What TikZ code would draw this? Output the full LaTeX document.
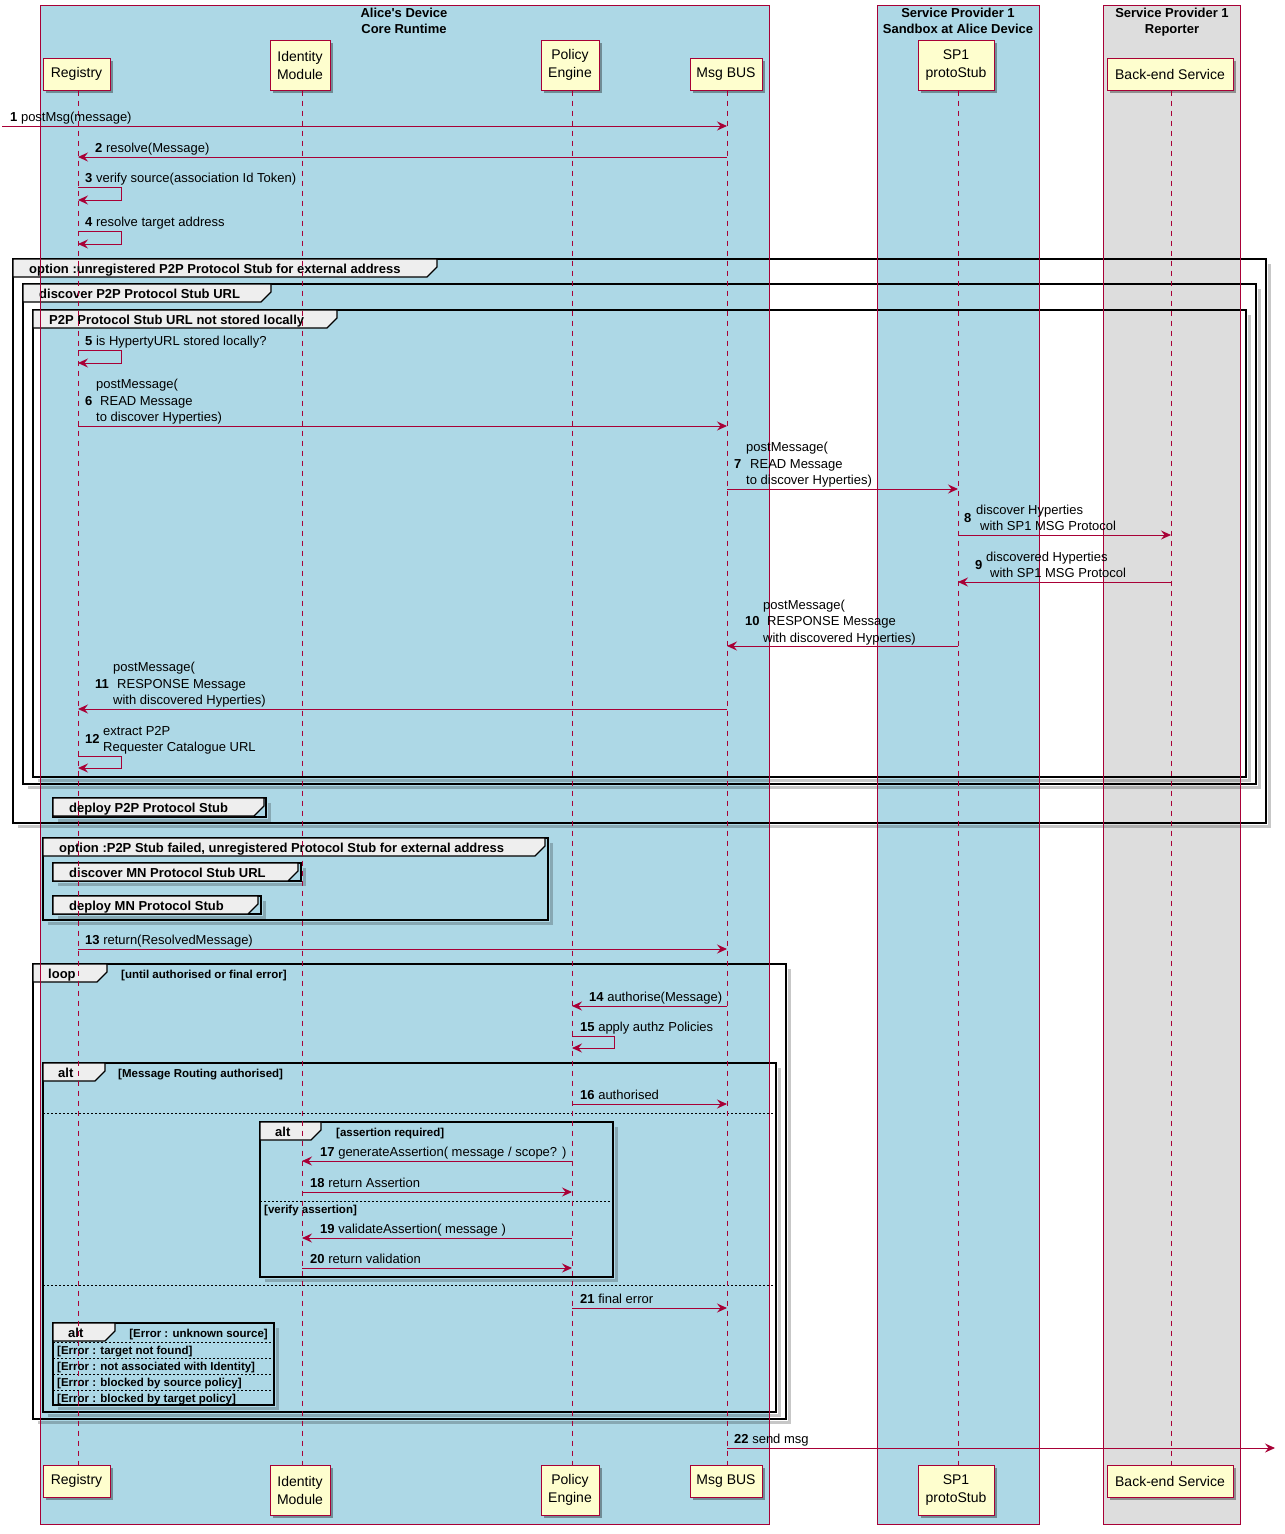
\documentclass[tikz,border=0pt]{standalone}
\usepackage{fontspec}
\setmainfont{Liberation Sans}
\usetikzlibrary{arrows.meta,shadows}

\definecolor{crim}{HTML}{A80036}
\definecolor{lblue}{HTML}{ADD8E6}
\definecolor{gbox}{HTML}{DDDDDD}
\definecolor{pfill}{HTML}{FEFECE}
\definecolor{tabfill}{HTML}{EEEEEE}

\tikzset{
  msg/.style={draw=crim, line width=0.9pt, -{Stealth[length=10pt,width=9pt,inset=3.5pt]}},
  lifeline/.style={draw=crim, line width=0.8pt, dash pattern=on 5pt off 5pt},
  participant/.style={draw=crim, fill=pfill, line width=1pt, inner sep=0pt, align=center,
    font=\fontsize{14}{18}\selectfont,
    drop shadow={shadow xshift=3pt, shadow yshift=-3pt, opacity=0.35, fill=black}},
  lbl/.style={inner sep=0pt, anchor=base west, font=\fontsize{13}{16}\selectfont},
  grouptitle/.style={inner sep=0pt, anchor=base west, font=\fontsize{13}{16}\selectfont\bfseries},
  guard/.style={inner sep=0pt, anchor=base west, font=\fontsize{11.5}{14}\selectfont\bfseries},
  framebox/.style={draw=black, line width=1.6pt},
  tabbox/.style={draw=black, fill=tabfill, line width=1.2pt},
  frameshadow/.style={draw=black, opacity=0.22, line width=3pt},
  elsesep/.style={draw=black, line width=0.8pt, dash pattern=on 2pt off 2pt},
  boxtitle/.style={inner sep=0pt, anchor=base, font=\fontsize{13}{16}\selectfont\bfseries},
  boxborder/.style={draw=crim, line width=0.9pt},
}

% fragment frame: x1, y1, x2, y2, right edge of the title tab
\newcommand{\seqframe}[5]{%
  \draw[frameshadow] (#3+3,#2+5) -- (#3+3,#4+3) -- (#1+5,#4+3);
  \draw[framebox] (#1,#2) rectangle (#3,#4);
  \draw[tabbox] (#1,#2) -- (#5,#2) -- (#5,#2+8) -- (#5-10,#2+18) -- (#1,#2+18) -- cycle;
}

\begin{document}
\begin{tikzpicture}[x=1pt,y=-1pt]
\useasboundingbox (0,0) rectangle (1285,1534);
\fill[white] (0,0) rectangle (1285,1534);

% participant boxes
\fill[lblue] (40,5) rectangle (769,1524);
\fill[lblue] (877,5) rectangle (1039,1524);
\fill[gbox] (1103,5) rectangle (1240,1524);

\node[boxtitle] (tA1) at (404,17.5) {Alice\textquotesingle s Device};
\node[boxtitle] (tA2) at (404,33.5) {Core Runtime};
\node[boxtitle] (tS1) at (958,17.5) {Service Provider 1};
\node[boxtitle] (tS2) at (958,33.5) {Sandbox at Alice Device};
\node[boxtitle] (tR1) at (1172,17.5) {Service Provider 1};
\node[boxtitle] (tR2) at (1172,33.5) {Reporter};

% participants
\node[participant, minimum width=67, minimum height=32] (pRegT) at (76.5,74) {Registry};
\node[participant, minimum width=60, minimum height=50] (pIdmT) at (300,65) {Identity\\Module};
\node[participant, minimum width=58, minimum height=50] (pPolT) at (570,65) {Policy\\Engine};
\node[participant, minimum width=72, minimum height=32] (pBusT) at (726,74) {Msg BUS};
\node[participant, minimum width=76, minimum height=50] (pSpT) at (956,65) {SP1\\protoStub};
\node[participant, minimum width=126, minimum height=32] (pBesT) at (1170,74) {Back-end Service};

\node[participant, minimum width=67, minimum height=32] (pRegB) at (76.5,1481) {Registry};
\node[participant, minimum width=60, minimum height=50] (pIdmB) at (300,1490) {Identity\\Module};
\node[participant, minimum width=58, minimum height=50] (pPolB) at (570,1490) {Policy\\Engine};
\node[participant, minimum width=72, minimum height=32] (pBusB) at (726,1481) {Msg BUS};
\node[participant, minimum width=76, minimum height=50] (pSpB) at (956,1490) {SP1\\protoStub};
\node[participant, minimum width=126, minimum height=32] (pBesB) at (1170,1481) {Back-end Service};

% lifeline positions and free message ends
\coordinate (reg) at (78,0);
\coordinate (idm) at (302,0);
\coordinate (pol) at (572,0);
\coordinate (bus) at (727,0);
\coordinate (sp) at (958,0);
\coordinate (bes) at (1171,0);
\coordinate (lft) at (2,0);
\coordinate (rgt) at (1275,0);

% combined fragments
\seqframe{13}{259}{1266}{823}{437}
\node[grouptitle] (g1) at (29,273) {option :unregistered P2P Protocol Stub for external address};
\seqframe{23}{284}{1256}{784}{271}
\node[grouptitle] (g2) at (39,298) {discover P2P Protocol Stub URL};
\seqframe{33}{310}{1246}{777}{337}
\node[grouptitle] (g3) at (49,324) {P2P Protocol Stub URL not stored locally};
\seqframe{53}{798}{266}{817}{264}
\node[grouptitle] (g4) at (69,812) {deploy P2P Protocol Stub};
\seqframe{43}{838}{548}{920}{545}
\node[grouptitle] (g5) at (59,852) {option :P2P Stub failed, unregistered Protocol Stub for external address};
\seqframe{53}{863}{301}{881}{298}
\node[grouptitle] (g6) at (69,877) {discover MN Protocol Stub URL};
\seqframe{53}{896}{261}{914}{258}
\node[grouptitle] (g7) at (69,910) {deploy MN Protocol Stub};

\seqframe{33}{964}{786}{1419}{107}
\node[grouptitle] (gLoop) at (48,978) {loop};
\node[guard] (cLoop) at (121,978) {[until authorised or final error]};

\seqframe{43}{1063}{776}{1412}{105}
\node[grouptitle] (gAlt1) at (58,1077) {alt};
\node[guard] (cAlt1) at (118,1077) {[Message Routing authorised]};
\draw[elsesep] (43,1113) -- (776,1113);
\draw[elsesep] (43,1285) -- (776,1285);

\seqframe{260}{1122}{613}{1277}{321}
\node[grouptitle] (gAlt2) at (275,1136) {alt};
\node[guard] (cAlt2) at (336,1136) {[assertion required]};
\draw[elsesep] (260,1201) -- (613,1201);
\node[guard] (cAlt2b) at (264,1213) {[verify assertion]};

\draw[elsesep] (53,1342) -- (274,1342);
\draw[elsesep] (53,1358) -- (274,1358);
\draw[elsesep] (53,1374) -- (274,1374);
\draw[elsesep] (53,1390) -- (274,1390);
\seqframe{53}{1323}{274}{1405}{115}
\node[grouptitle] (gAlt3) at (68,1337) {alt};
\node[guard, anchor=base east] (cE0) at (268,1337) {[Error : unknown source]};
\node[guard] (cE1) at (57,1354) {[Error : target not found]};
\node[guard] (cE2) at (57,1370) {[Error : not associated with Identity]};
\node[guard] (cE3) at (57,1386) {[Error : blocked by source policy]};
\node[guard] (cE4) at (57,1402) {[Error : blocked by target policy]};

% box borders
\draw[boxborder] (40,5) rectangle (769,1524);
\draw[boxborder] (877,5) rectangle (1039,1524);
\draw[boxborder] (1103,5) rectangle (1240,1524);

% lifelines
\draw[lifeline] (reg |- pRegT.south) -- (reg |- pRegB.north);
\draw[lifeline] (idm |- pIdmT.south) -- (idm |- pIdmB.north);
\draw[lifeline] (pol |- pPolT.south) -- (pol |- pPolB.north);
\draw[lifeline] (bus |- pBusT.south) -- (bus |- pBusB.north);
\draw[lifeline] (sp |- pSpT.south) -- (sp |- pSpB.north);
\draw[lifeline] (bes |- pBesT.south) -- (bes |- pBesB.north);

% messages
\draw[msg] (lft |- 0,126) -- (bus |- 0,126);
\node[lbl] (l1) at (10,121.5) {\textbf{1} postMsg(message)};

\draw[msg] (bus |- 0,157) -- (reg |- 0,157);
\node[lbl] (l2) at (95,152.5) {\textbf{2} resolve(Message)};

\draw[msg] (reg |- 0,187) -- ++(43,0) -- ++(0,13) -- (reg |- 0,200);
\node[lbl] (l3) at (85,182.5) {\textbf{3} verify source(association Id Token)};

\draw[msg] (reg |- 0,231) -- ++(43,0) -- ++(0,13) -- (reg |- 0,244);
\node[lbl] (l4) at (85,226.5) {\textbf{4} resolve target address};

\draw[msg] (reg |- 0,350) -- ++(43,0) -- ++(0,13) -- (reg |- 0,363);
\node[lbl] (l5) at (85,345.5) {\textbf{5} is HypertyURL stored locally?};

\draw[msg] (reg |- 0,426) -- (bus |- 0,426);
\node[lbl] (l6n) at (85,405) {\textbf{6}};
\node[lbl] (l6a) at (96,388.5) {postMessage(};
\node[lbl] (l6b) at (100,405) {READ Message};
\node[lbl] (l6c) at (96,421.5) {to discover Hyperties)};

\draw[msg] (bus |- 0,489) -- (sp |- 0,489);
\node[lbl] (l7n) at (734,468) {\textbf{7}};
\node[lbl] (l7a) at (746,451.5) {postMessage(};
\node[lbl] (l7b) at (750,468) {READ Message};
\node[lbl] (l7c) at (746,484.5) {to discover Hyperties)};

\draw[msg] (sp |- 0,535) -- (bes |- 0,535);
\node[lbl] (l8n) at (964,522.5) {\textbf{8}};
\node[lbl] (l8a) at (976,514) {discover Hyperties};
\node[lbl] (l8b) at (980,530.5) {with SP1 MSG Protocol};

\draw[msg] (bes |- 0,582) -- (sp |- 0,582);
\node[lbl] (l9n) at (975,569.5) {\textbf{9}};
\node[lbl] (l9a) at (986,561) {discovered Hyperties};
\node[lbl] (l9b) at (990,577.5) {with SP1 MSG Protocol};

\draw[msg] (sp |- 0,646) -- (bus |- 0,646);
\node[lbl] (l10n) at (745,625.5) {\textbf{10}};
\node[lbl] (l10a) at (763,609) {postMessage(};
\node[lbl] (l10b) at (767,625.5) {RESPONSE Message};
\node[lbl] (l10c) at (763,642) {with discovered Hyperties)};

\draw[msg] (bus |- 0,709) -- (reg |- 0,709);
\node[lbl] (l11n) at (95,688) {\textbf{11}};
\node[lbl] (l11a) at (113,671.5) {postMessage(};
\node[lbl] (l11b) at (117,688) {RESPONSE Message};
\node[lbl] (l11c) at (113,704.5) {with discovered Hyperties)};

\draw[msg] (reg |- 0,756) -- ++(43,0) -- ++(0,12) -- (reg |- 0,768);
\node[lbl] (l12n) at (85,743.5) {\textbf{12}};
\node[lbl] (l12a) at (103,735) {extract P2P};
\node[lbl] (l12b) at (103,751.5) {Requester Catalogue URL};

\draw[msg] (reg |- 0,949) -- (bus |- 0,949);
\node[lbl] (l13) at (85,944.5) {\textbf{13} return(ResolvedMessage)};

\draw[msg] (bus |- 0,1006) -- (pol |- 0,1006);
\node[lbl] (l14) at (589,1001.5) {\textbf{14} authorise(Message)};

\draw[msg] (pol |- 0,1036) -- ++(42,0) -- ++(0,12) -- (pol |- 0,1048);
\node[lbl] (l15) at (580,1031.5) {\textbf{15} apply authz Policies};

\draw[msg] (pol |- 0,1104) -- (bus |- 0,1104);
\node[lbl] (l16) at (580,1099.5) {\textbf{16} authorised};

\draw[msg] (pol |- 0,1161) -- (idm |- 0,1161);
\node[lbl] (l17) at (320,1156.5) {\textbf{17} generateAssertion( message / scope? )};

\draw[msg] (idm |- 0,1192) -- (pol |- 0,1192);
\node[lbl] (l18) at (310,1187.5) {\textbf{18} return Assertion};

\draw[msg] (pol |- 0,1238) -- (idm |- 0,1238);
\node[lbl] (l19) at (320,1233.5) {\textbf{19} validateAssertion( message )};

\draw[msg] (idm |- 0,1268) -- (pol |- 0,1268);
\node[lbl] (l20) at (310,1263.5) {\textbf{20} return validation};

\draw[msg] (pol |- 0,1308) -- (bus |- 0,1308);
\node[lbl] (l21) at (580,1303.5) {\textbf{21} final error};

\draw[msg] (bus |- 0,1448) -- (rgt |- 0,1448);
\node[lbl] (l22) at (734,1443.5) {\textbf{22} send msg};

\end{tikzpicture}
\end{document}
